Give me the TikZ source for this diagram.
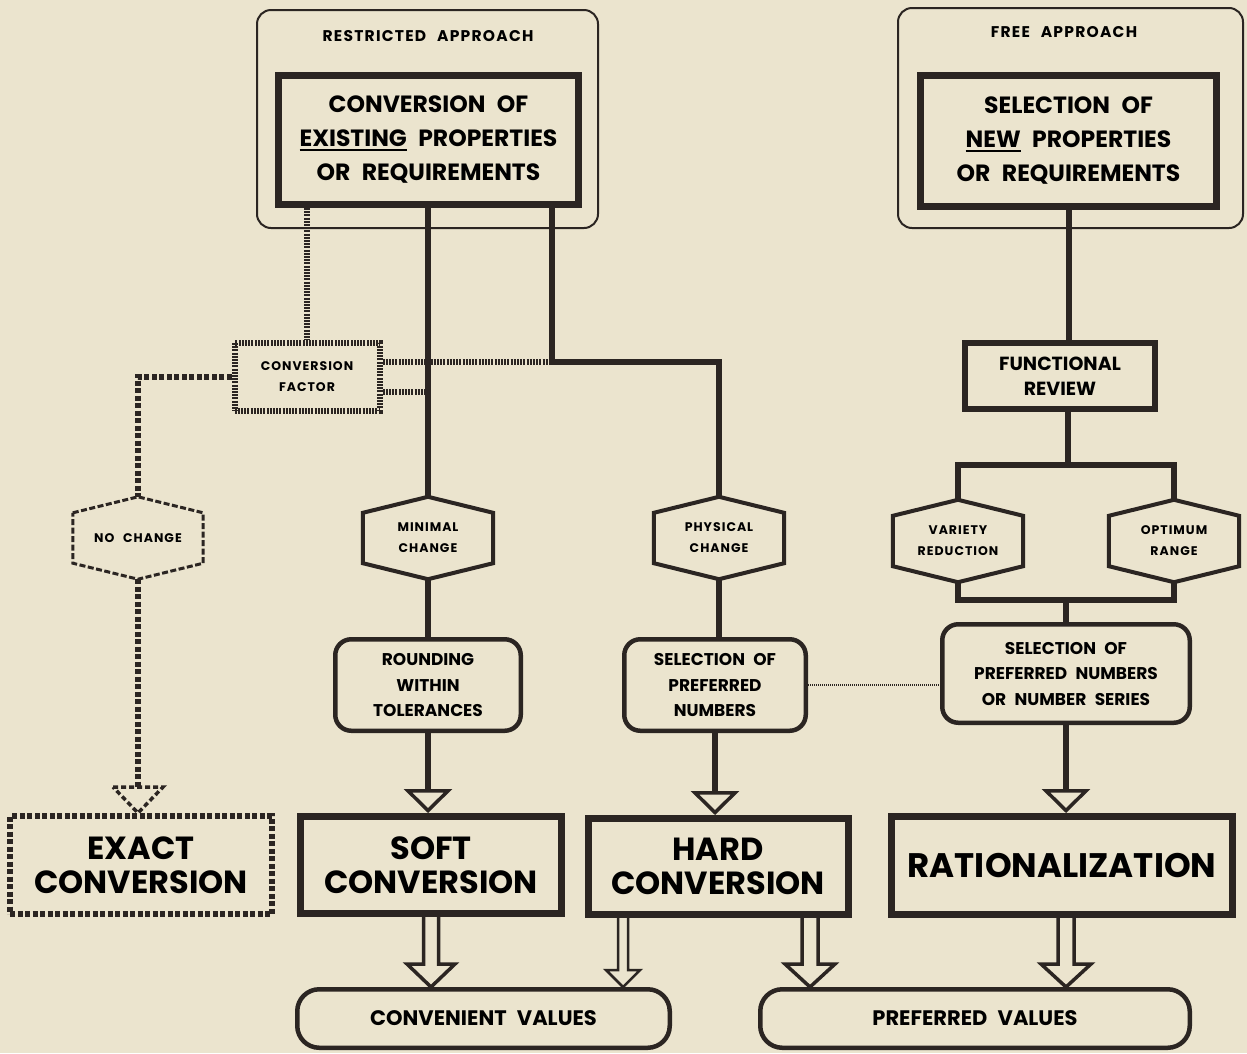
\documentclass[tikz,border=0pt]{standalone}
\usepackage{fontspec}
\setmainfont{Poppins}[WordSpace=2.3]
\newfontfamily\spacedfont{Poppins}[LetterSpace=8,WordSpace=2.4]
\usetikzlibrary{arrows.meta,calc}

\definecolor{paper}{HTML}{EBE4CE}
\definecolor{ink}{HTML}{2B2522}

\newcommand\toptxt{\spacedfont\bfseries\fontsize{15.5}{17}\selectfont}
\newcommand\boxtxt{\bfseries\fontsize{23.5}{34}\selectfont}
\newcommand\midtxt{\bfseries\fontsize{17}{25.5}\selectfont}
\newcommand\hextxt{\spacedfont\bfseries\fontsize{12.5}{21}\selectfont}
\newcommand\bigtxt{\bfseries\fontsize{32}{34}\selectfont}
\newcommand\valtxt{\bfseries\fontsize{21}{24}\selectfont}
\newcommand\undl[1]{\setbox0\hbox{#1}\rlap{\rule[-4.5pt]{\wd0}{2.2pt}}\box0\relax}

\tikzset{
  outerbox/.style={draw=ink, line width=2pt, rounded corners=14pt, inner sep=0pt},
  propbox/.style={draw=ink, line width=7pt, align=center, font=\boxtxt, inner sep=0pt},
  hexbox/.style={align=center, font=\hextxt, minimum width=130pt, minimum height=50pt, inner sep=0pt},
  hexline/.style={draw=ink, line width=4pt, line join=miter},
  roundbox/.style={draw=ink, line width=4.5pt, rounded corners=16pt, align=center, font=\midtxt, inner sep=0pt},
  resultbox/.style={draw=ink, line width=7pt, align=center, font=\bigtxt, inner sep=0pt},
  valuebox/.style={draw=ink, line width=4.5pt, rounded corners=22pt, font=\valtxt, inner sep=0pt},
  link/.style={draw=ink, line width=6pt},
  ladder/.style={draw=ink, line width=6pt, dash pattern=on 2pt off 1.2pt},
  squares/.style={draw=ink, line width=6pt, dash pattern=on 5pt off 2.5pt},
  dots/.style={draw=ink, line width=2pt, dash pattern=on 1pt off 1pt},
  openhead/.style={-{Triangle[open,length=24pt,width=48pt,line width=3.5pt]}},
  fatarrow/.style={draw=ink, line width=3.5pt, line join=miter},
}

% hollow double arrow: from, to, x offset, shaft half width, head half width, head length
\newcommand\hollowarrow[7][]{%
  \draw[fatarrow,#1] let \p1=(#2), \p2=(#3) in
    (\x1+#4-#5,\y1) -- (\x1+#4-#5,\y2+#7) -- (\x1+#4-#6,\y2+#7) -- (\x1+#4,\y2)
    -- (\x1+#4+#6,\y2+#7) -- (\x1+#4+#5,\y2+#7) -- (\x1+#4+#5,\y1);}

\begin{document}
\begin{tikzpicture}[x=1pt,y=-1pt]
\path[use as bounding box, fill=paper] (0,0) rectangle (1247,1053);
\clip (0,0) rectangle (1247,1053);

% approaches
\node[outerbox, minimum width=341pt, minimum height=218pt] (restrict) at (427.5,119) {};
\node[font=\toptxt] (restrictlbl) at (428,36) {RESTRICTED APPROACH};
\node[propbox, minimum width=300pt, minimum height=129pt] (existing) at (428.5,140)
  {CONVERSION OF\\ \undl{EXISTING} PROPERTIES\\ OR REQUIREMENTS};
\node[outerbox, minimum width=345pt, minimum height=220pt] (free) at (1070.5,118) {};
\node[font=\toptxt] (freelbl) at (1064,32) {FREE APPROACH};
\node[propbox, minimum width=296pt, minimum height=131pt] (newprops) at (1068.5,141)
  {SELECTION OF\\ \undl{NEW} PROPERTIES\\ OR REQUIREMENTS};

% middle row
\node[ladder, minimum width=145pt, minimum height=68pt, align=center, font=\hextxt, inner sep=0pt] (convfactor) at (307,376.5) {CONVERSION\\FACTOR};
\node[draw=ink, line width=6pt, minimum width=190pt, minimum height=66pt, align=center, font=\bfseries\fontsize{19}{25}\selectfont, inner sep=0pt] (review) at (1060,376) {FUNCTIONAL\\REVIEW};

\node[hexbox] (nochange) at (138,538) {NO CHANGE};
\node[hexbox] (minimal) at (428,538) {MINIMAL\\CHANGE};
\node[hexbox] (physical) at (719,538) {PHYSICAL\\CHANGE};
\node[hexbox] (variety) at (958,541) {VARIETY\\REDUCTION};
\node[hexbox] (optimum) at (1174,541) {OPTIMUM\\RANGE};

\foreach \h in {nochange,minimal,physical,variety,optimum} {
  \coordinate (\h-top) at ([yshift=16pt]\h.north);
  \coordinate (\h-bot) at ([yshift=-16pt]\h.south);
}
\foreach \h in {minimal,physical,variety,optimum}
  \draw[hexline] (\h.north west) -- (\h-top) -- (\h.north east) -- (\h.south east) -- (\h-bot) -- (\h.south west) -- cycle;
\draw[hexline, line width=3pt, dash pattern=on 6pt off 2.5pt] (nochange.north west) -- (nochange-top) -- (nochange.north east)
  -- (nochange.south east) -- (nochange-bot) -- (nochange.south west) -- cycle;

\node[roundbox, minimum width=185.5pt, minimum height=91.5pt] (rounding) at (428,685) {ROUNDING\\WITHIN\\TOLERANCES};
\node[roundbox, minimum width=181.5pt, minimum height=91.5pt] (prefnum) at (715,685) {SELECTION OF\\PREFERRED\\NUMBERS};
\node[roundbox, minimum width=247.5pt, minimum height=98.5pt] (prefseries) at (1066,673.5) {SELECTION OF\\PREFERRED NUMBERS\\OR NUMBER SERIES};

% results
\node[resultbox, squares, minimum width=262pt, minimum height=98pt] (exact) at (141,865) {EXACT\\CONVERSION};
\node[resultbox, minimum width=261pt, minimum height=97pt] (soft) at (431,865) {SOFT\\CONVERSION};
\node[resultbox, minimum width=260pt, minimum height=96pt] (hard) at (718,866.5) {HARD\\CONVERSION};
\node[resultbox, minimum width=341pt, minimum height=98pt, font=\bfseries\fontsize{34}{36}\selectfont] (rational) at (1062,865.5) {RATIONALIZATION};
\node[valuebox, minimum width=372.5pt, minimum height=58.5pt] (convenient) at (483.5,1018.5) {CONVENIENT VALUES};
\node[valuebox, minimum width=429.5pt, minimum height=58.5pt] (preferred) at (975,1018.5) {PREFERRED VALUES};

% restricted approach links
\coordinate (pbend) at (552,362);
\draw[link] (minimal-top |- existing.south) -- (minimal-top);
\draw[link] (pbend |- existing.south) -- (pbend) -| (physical-top);
\draw[ladder] (convfactor.north |- existing.south) -- (convfactor.north);
\draw[ladder] (convfactor.east |- pbend) -- (pbend);
\draw[ladder] ([yshift=-15.5pt]convfactor.east) -- ([yshift=-15.5pt]convfactor.east -| minimal-top);
\draw[squares] (convfactor.west) -| (nochange-top);
\draw[squares] (nochange-bot) -- ($(nochange-bot |- exact.north)+(0,26pt)$);
\draw[draw=ink, line width=3.5pt, dash pattern=on 5pt off 3pt] let \p1=(nochange-bot |- exact.north) in
  (\x1-25pt,\y1+26pt) -- (\x1+25pt,\y1+26pt) -- (\x1,\y1) -- cycle;

\draw[link] (minimal-bot) -- (minimal-bot |- rounding.north);
\draw[link] (physical-bot) -- (physical-bot |- prefnum.north);
\draw[link, openhead] (rounding.south) -- (rounding.south |- soft.north);
\draw[link, openhead] (prefnum.south) -- (prefnum.south |- hard.north);
\draw[dots] (prefnum.east) -- (prefnum.east -| prefseries.west);

% free approach links
\coordinate (split) at (1068,465);
\coordinate (join) at (1066,600);
\draw[link] (newprops.south) -- (newprops.south |- review.north);
\draw[link] (split |- review.south) -- (split);
\draw[link] (variety-top) |- (split) -| (optimum-top);
\draw[link] (variety-bot) |- (join) -| (optimum-bot);
\draw[link] (join) -- (join |- prefseries.north);
\draw[link, openhead] (prefseries.south) -- (prefseries.south |- rational.north);

% values
\hollowarrow{soft.south}{convenient.north}{0pt}{7.5pt}{24pt}{23pt}
\hollowarrow[line width=2.5pt]{hard.south}{convenient.north}{-95pt}{5pt}{17pt}{17pt}
\hollowarrow{hard.south}{preferred.north}{92pt}{8pt}{25pt}{23pt}
\hollowarrow{rational.south}{preferred.north}{4pt}{8pt}{25pt}{23pt}
\end{tikzpicture}
\end{document}
